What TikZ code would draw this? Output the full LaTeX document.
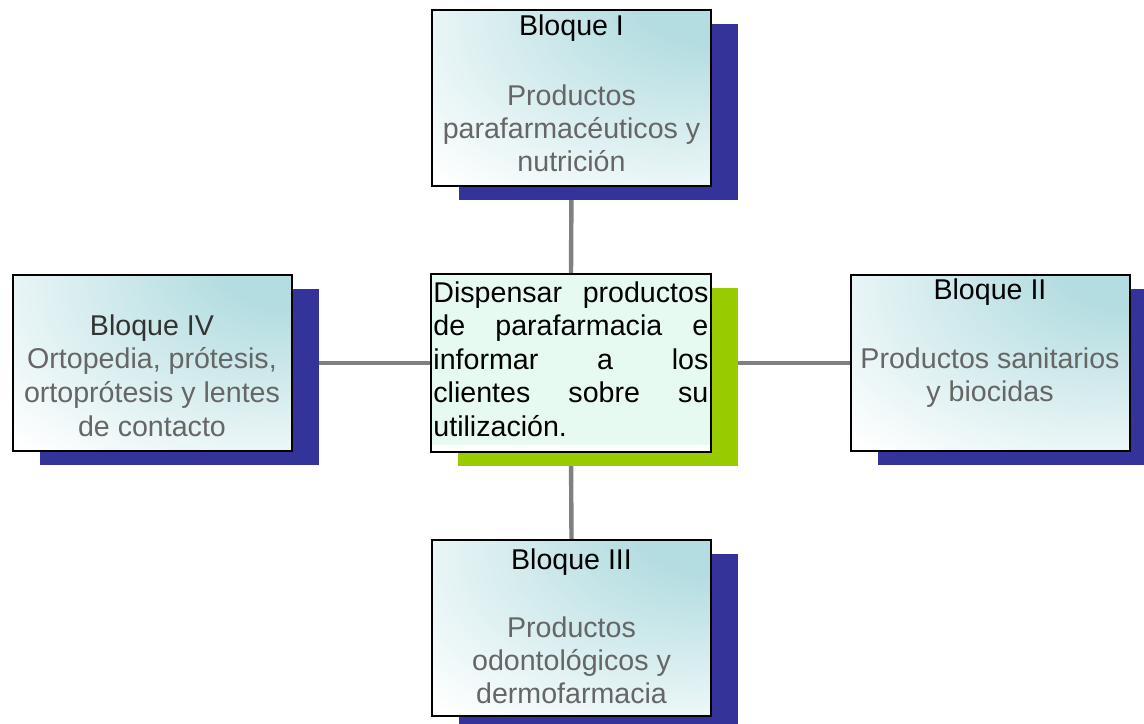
\documentclass[tikz,border=0pt]{standalone}
\usepackage{fontspec}
\setmainfont{Liberation Sans}
\usetikzlibrary{shadows,backgrounds}
\definecolor{shblue}{RGB}{51,51,153}
\definecolor{shgreen}{RGB}{153,204,0}
\definecolor{tealc}{RGB}{180,221,225}
\definecolor{mint}{RGB}{230,250,242}
\definecolor{bodygray}{RGB}{102,102,102}
\definecolor{linegray}{RGB}{128,128,128}
\pgfdeclareradialshading{boxshade}{\pgfpoint{30bp}{34bp}}{color(0bp)=(tealc); color(14bp)=(tealc); color(54bp)=(white); color(100bp)=(white)}
\tikzset{
  bloque/.style={draw=black, line width=1pt, minimum width=139.5pt, minimum height=88pt, inner sep=0pt,
    shading=boxshade,
    general shadow={fill=shblue, shadow xshift=13.5pt, shadow yshift=-6.75pt}},
  centro/.style={draw=black, line width=1pt, minimum width=140pt, minimum height=89pt, inner sep=0pt,
    fill=mint,
    path picture={\fill[white] ([yshift=3.5pt]path picture bounding box.south west) rectangle (path picture bounding box.south east);},
    general shadow={fill=shgreen, shadow xshift=13.5pt, shadow yshift=-6.75pt}},
  txt/.style={inner sep=0pt, align=center, anchor=base, font=\fontsize{14.3}{16.3}\selectfont},
  conn/.style={draw=linegray, line width=2.2pt}
}
\begin{document}
\begin{tikzpicture}[x=0.5pt,y=-0.5pt]
\useasboundingbox (0,0) rectangle (1144,723);
\node[bloque] (b1) at (571.5,98) {};
\node[bloque] (b2) at (990,363) {};
\node[bloque] (b3) at (571.5,628) {};
\node[bloque] (b4) at (152,363) {};
\node[centro] (c) at (571,363) {};
\begin{scope}[on background layer]
\draw[conn] (b1.south) -- (c.north);
\draw[conn] (c.south) -- (b3.north);
\draw[conn] (b4.east) -- (c.west);
\draw[conn] (c.east) -- (b2.west);
\end{scope}
\node[txt] (t1) at (571.5,171) {Bloque I\\[19pt]\textcolor{bodygray}{Productos}\\\textcolor{bodygray}{parafarmacéuticos y}\\\textcolor{bodygray}{nutrición}};
\node[txt] (t2) at (990,401) {Bloque II\\[18pt]\textcolor{bodygray}{Productos sanitarios}\\\textcolor{bodygray}{y biocidas}};
\node[txt] (t3) at (571.5,703) {Bloque III\\[18pt]\textcolor{bodygray}{Productos}\\\textcolor{bodygray}{odontológicos y}\\\textcolor{bodygray}{dermofarmacia}};
\node[txt, font=\fontsize{14.3}{16.8}\selectfont] (t4) at (152,436) {\textcolor{black!80}{Bloque IV}\\\textcolor{bodygray}{Ortopedia, prótesis,}\\\textcolor{bodygray}{ortoprótesis y lentes}\\\textcolor{bodygray}{de contacto}};
\node[inner sep=0pt, anchor=base west, text width=137.5pt, align=justify, font=\fontsize{14.3}{16.8}\selectfont] (tc) at (433,302)
  {Dispensar productos\linebreak de parafarmacia e\linebreak informar a los\linebreak clientes sobre su\linebreak utilización.};
\end{tikzpicture}
\end{document}
